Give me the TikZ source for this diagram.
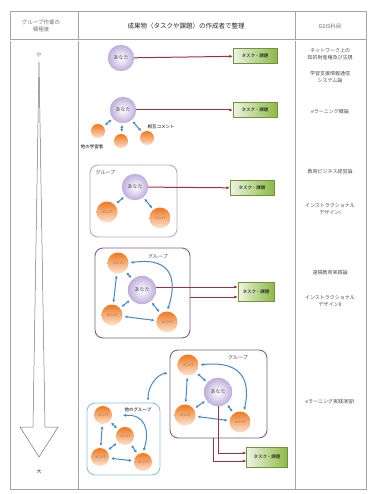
\documentclass[tikz,border=0pt]{standalone}
\usepackage{fontspec}
\newfontfamily\jpfont{Noto Sans CJK JP}
\usetikzlibrary{arrows.meta,positioning}
\definecolor{gridgray}{RGB}{165,165,165}
\definecolor{youlilac}{RGB}{190,175,220}
\definecolor{mateorange}{RGB}{240,120,30}
\definecolor{taskgreen}{RGB}{140,185,70}
\definecolor{taskred}{RGB}{165,45,60}
\definecolor{linkblue}{RGB}{70,135,205}
\definecolor{grpgray}{RGB}{175,175,185}
\definecolor{grppurple}{RGB}{125,95,135}
\definecolor{grpblue}{RGB}{140,195,215}

\begin{document}
\begin{tikzpicture}[x=1pt, y=-1pt, font=\jpfont\fontsize{5}{6}\selectfont,
    you/.style={circle, minimum size=26pt, inner sep=0pt, inner color=white,
        outer color=youlilac, draw=youlilac!80!gray, line width=.2pt, text=black!70},
    mate/.style={circle, minimum size=21pt, inner sep=0pt, top color=mateorange,
        bottom color=mateorange!20!white, font=\jpfont\fontsize{3.5}{4}\selectfont, text=black!60},
    peer/.style={circle, minimum size=14pt, inner sep=0pt, top color=mateorange,
        bottom color=mateorange!25!white},
    task/.style={rectangle, minimum width=44pt, minimum height=15pt, inner sep=1pt,
        left color=taskgreen!15!white, right color=taskgreen, draw=taskgreen!80!black,
        line width=.3pt, font=\jpfont\fontsize{4.5}{5}\selectfont},
    totask/.style={draw=taskred, line width=1pt, -{Latex[length=3.5pt,width=3pt]}},
    link/.style={draw=linkblue, line width=1pt, shorten <=2pt, shorten >=2pt,
        {Latex[length=2.8pt,width=3pt]}-{Latex[length=2.8pt,width=3pt]}},
    grp/.style={rectangle, rounded corners=8pt, line width=.9pt, fill=white},
    course/.style={align=center, text=black!70, font=\jpfont\fontsize{5}{6.5}\selectfont},
    gridline/.style={draw=gridgray, line width=.6pt}]
    \useasboundingbox (0,0) rectangle (372,494);

    % table
    \draw[gridline] (10,11) rectangle (366,489);
    \draw[gridline] (78,11) -- (78,489);
    \draw[gridline] (295,11) -- (295,489);
    \draw[gridline, double, double distance=.8pt] (10,40) -- (366,40);
    \node[text=black!55, align=center, font=\jpfont\fontsize{5.5}{7}\selectfont] (hdegree) at (41,26) {グループ作業の\\積極度};
    \node[text=black!85, font=\jpfont\fontsize{6.5}{8}\selectfont] (hwork) at (186,26) {成果物（タスクや課題）の作成者で整理};
    \node[text=black!55, font=\jpfont\fontsize{5.5}{7}\selectfont] (hgsis) at (330,26) {GSIS科目};

    % degree arrow
    \node[text=black!70] (small) at (39,55) {小};
    \node[text=black!80] (large) at (39,472) {大};
    \draw[draw=black!55, fill=white, line width=.5pt] (39,62) -- (45,427) -- (58,427) -- (39,457)
        -- (20,427) -- (33,427) -- cycle;

    % courses
    \node[course] (c1) at (330,54) {ネットワーク上の\\知的財産権及び法規};
    \node[course] (c2) at (330,77) {学習支援情報通信\\システム論};
    \node[course] (c3) at (330,112) {eラーニング概論};
    \node[course] (c4) at (330,172) {教育ビジネス経営論};
    \node[course] (c5) at (330,209) {インストラクショナル\\デザインI};
    \node[course] (c6) at (330,273) {遠隔教育実践論};
    \node[course] (c7) at (330,301) {インストラクショナル\\デザインII};
    \node[course] (c8) at (330,402) {eラーニング実践演習I};

    % row 1
    \node[you] (y1) at (121,58) {あなた};
    \node[task] (t1) at (255,56) {タスク・課題};
    \draw[totask] (y1) -- (t1);

    % row 2
    \node[you] (y2) at (123,110) {あなた};
    \node[task] (t2) at (255,110) {タスク・課題};
    \draw[totask] (y2) -- (t2);
    \node[peer] (p1) at (98,131) {};
    \node[peer] (p2) at (121,141) {};
    \node[peer] (p3) at (147,138) {};
    \node[font=\jpfont\fontsize{4.5}{5}\selectfont] (others) at (92,147) {他の学習者};
    \node[font=\jpfont\fontsize{4.5}{5}\selectfont] (comment) at (161,127) {相互コメント};
    \foreach \p in {p1,p2,p3}
        \draw[link] (y2) -- (\p);

    % row 3
    \node[grp, draw=grpgray, minimum width=87pt, minimum height=72pt] (g3) at (133.5,201) {};
    \node[anchor=west, text=black!70] (g3name) at (92,173) {グループ};
    \node[you] (y3) at (135,187) {あなた};
    \node[mate] (m31) at (107,212) {メンバ};
    \node[mate] (m32) at (160,218) {メンバ};
    \node[task] (t3) at (252,188) {タスク・課題};
    \draw[totask] (y3) -- (t3);
    \draw[link] (y3) -- (m31);
    \draw[link] (y3) -- (m32);

    % row 4
    \node[grp, draw=grppurple, minimum width=95pt, minimum height=90pt] (g4) at (142.5,293) {};
    \node[text=black!70] (g4name) at (158,257) {グループ};
    \node[you, minimum size=28pt] (y4) at (142,290) {あなた};
    \node[mate] (m41) at (118,263) {メンバ};
    \node[mate] (m42) at (112,315) {メンバ};
    \node[mate] (m43) at (167,322) {メンバ};
    \node[task, minimum width=36pt, minimum height=19pt] (t4) at (256,292) {タスク・課題};
    \coordinate (t4a) at ([yshift=5pt]t4.west);
    \coordinate (t4b) at ([yshift=-5pt]t4.west);
    \draw[totask] (y4.east |- t4a) -- (t4a);
    \draw[totask] (g4.east |- t4b) -- (t4b);
    \draw[link] (m41) -- (m42);
    \draw[link] (m42) -- (m43);
    \draw[link] (m41) -- (y4);
    \draw[link] (m42) -- (y4);
    \draw[link] (y4) -- (m43);
    \draw[link] (m41.east) .. controls (176,256) and (176,285) .. (m43.north);

    % row 5
    \node[grp, draw=grppurple, minimum width=97pt, minimum height=88pt] (g5) at (218.5,394) {};
    \node[text=black!70] (g5name) at (238,358) {グループ};
    \node[you, minimum size=28pt] (y5) at (218,392) {あなた};
    \node[mate] (m51) at (188,365) {メンバ};
    \node[mate] (m52) at (185,415) {メンバ};
    \node[mate] (m53) at (240,422) {メンバ};
    \node[task, minimum width=41pt, minimum height=20pt] (t5) at (267,457) {タスク・課題};
    \coordinate (t5a) at ([yshift=4pt]t5.west);
    \coordinate (t5b) at ([yshift=-4pt]t5.west);
    \draw[link] (m51) -- (m52);
    \draw[link] (m52) -- (m53);
    \draw[link] (m51) -- (y5);
    \draw[link] (m52) -- (y5);
    \draw[link] (y5) -- (m53);
    \draw[link] (m51.east) .. controls (246,360) and (250,385) .. (m53.70);
    \draw[totask] (y5.south) |- (t5a);
    \draw[totask] ([xshift=-5pt]y5.south |- g5.south) |- (t5b);

    % other group
    \node[grp, draw=grpblue, minimum width=73pt, minimum height=72pt] (g6) at (123.5,439) {};
    \node[font=\jpfont\fontsize{4.5}{5}\selectfont] (g6name) at (138,410) {他のグループ};
    \node[mate, minimum size=18pt] (o1) at (103,415) {メンバ};
    \node[mate, minimum size=18pt] (o2) at (125,436) {メンバ};
    \node[mate, minimum size=18pt] (o3) at (100,457) {メンバ};
    \node[mate, minimum size=18pt] (o4) at (143,462) {メンバ};
    \draw[link] (o1) -- (o3);
    \draw[link] (o3) -- (o4);
    \draw[link] (o1) -- (o2);
    \draw[link] (o2) -- (o3);
    \draw[link] (o2) -- (o4);
    \draw[link] (g6name.south west) .. controls (145,414) and (150,430) .. (o4.north);
    \draw[link] (g6.north -| 148,0) .. controls (148,385) and (158,374) .. (g5.west |- 0,373);
\end{tikzpicture}
\end{document}
